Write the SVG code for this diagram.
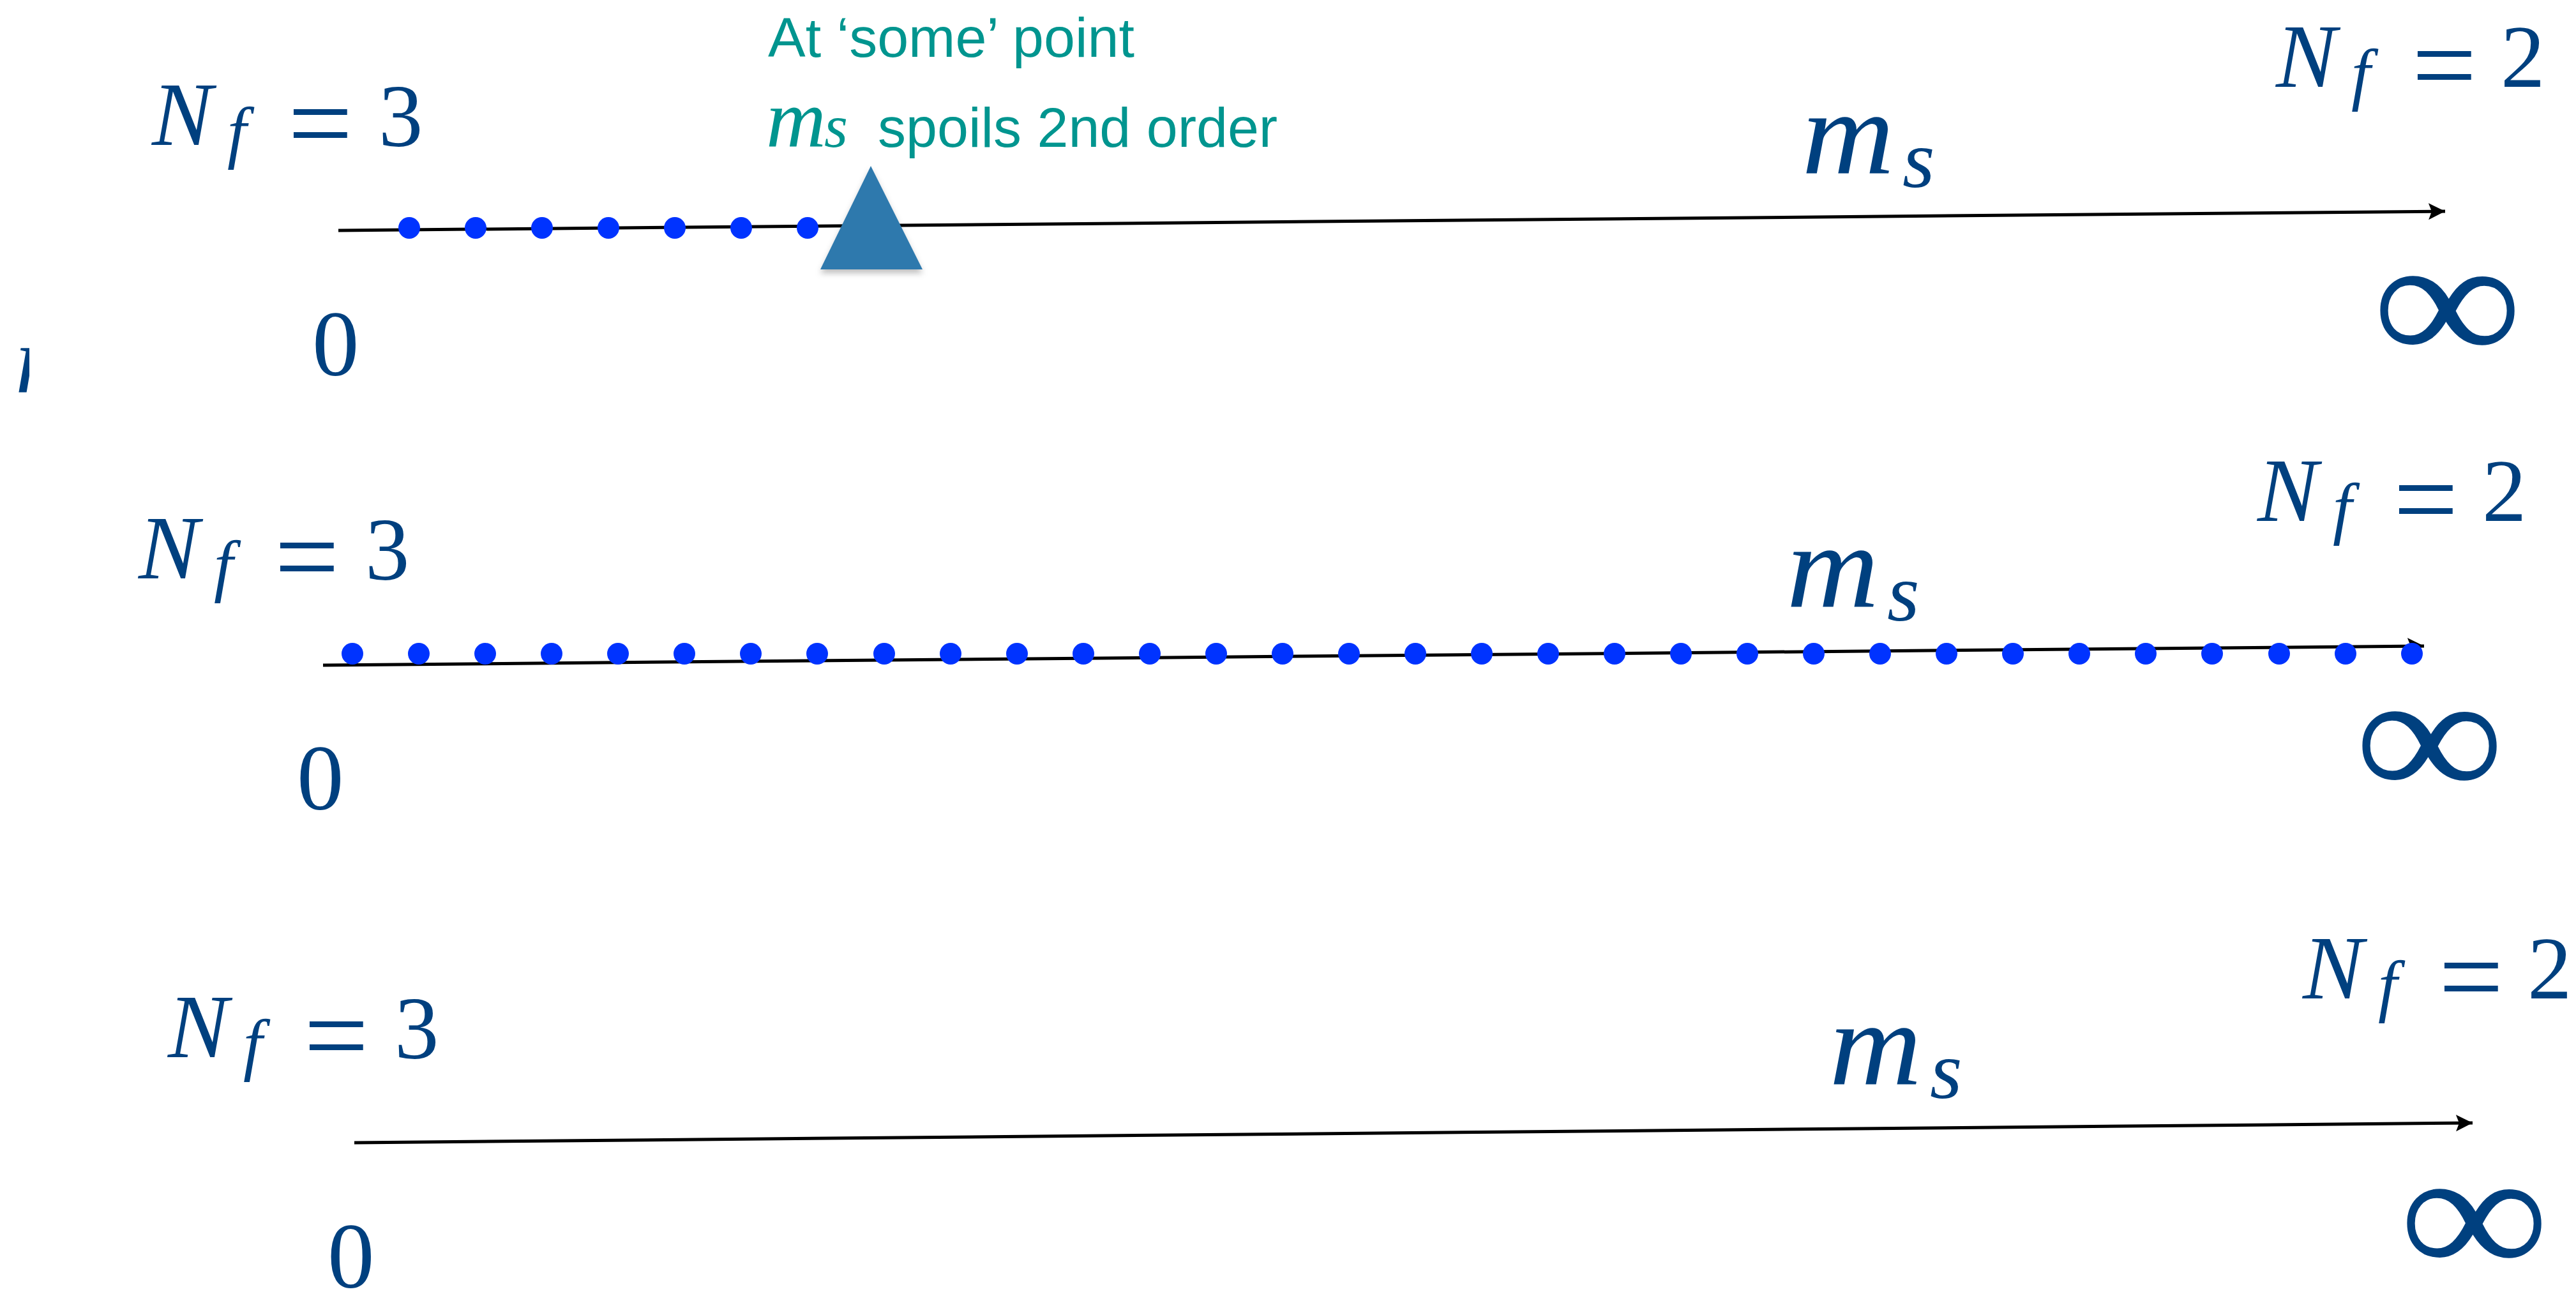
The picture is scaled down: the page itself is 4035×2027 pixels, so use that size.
<svg xmlns="http://www.w3.org/2000/svg" width="4035" height="2027" viewBox="0 0 4035 2027">
<style>
.mi{font-family:"Liberation Serif",serif;font-style:italic;fill:#00407f}
.mr{font-family:"Liberation Serif",serif;fill:#00407f}
.teal{font-family:"Liberation Sans",Arial,sans-serif;fill:#00958f;font-size:88px}
.tealm{font-family:"Liberation Serif",serif;font-style:italic;fill:#00958f}
.axis{stroke:#000;stroke-width:5;fill:none}
.dot{fill:#0033ff}
.zero{font-family:"Liberation Serif",serif;fill:#00407f;font-size:147px}
.inf{font-family:"Liberation Serif",serif;fill:#00407f;font-size:300px}
</style>
<defs>
<marker id="arr" markerUnits="userSpaceOnUse" markerWidth="30" markerHeight="30" refX="26" refY="13" orient="auto">
<path d="M0,0 L26,13 L0,26 L5,13 z" fill="#000"/>
</marker>
<filter id="sh" x="-20%" y="-20%" width="140%" height="150%">
<feDropShadow dx="0" dy="6" stdDeviation="5" flood-color="#000" flood-opacity="0.25"/>
</filter>
<clipPath id="clipL"><rect x="0" y="500" width="46" height="140"/></clipPath>
<g id="nf3">
<text class="mi" x="4" y="0" font-size="142">N</text>
<text class="mi" x="122" y="16" font-size="108">f</text>
<text class="mr" x="217" y="26" font-size="180">=</text>
<text class="mr" x="359" y="2" font-size="139">3</text>
</g>
<g id="nf2">
<text class="mi" x="4" y="0" font-size="142">N</text>
<text class="mi" x="122" y="16" font-size="108">f</text>
<text class="mr" x="217" y="26" font-size="180">=</text>
<text class="mr" x="356" y="0" font-size="139">2</text>
</g>
<g id="ms">
<text class="mi" transform="scale(1.08,1)" x="2" y="0" font-size="186">m</text>
<text class="mi" x="160" y="22" font-size="130">s</text>
</g>
</defs>

<g id="connectors">
<line class="axis" x1="530" y1="361" x2="3830" y2="331" marker-end="url(#arr)"/>
<line class="axis" x1="506" y1="1042" x2="3797" y2="1012" marker-end="url(#arr)"/>
<line class="axis" x1="555" y1="1790" x2="3873" y2="1759" marker-end="url(#arr)"/>
</g>

<g id="fragment" clip-path="url(#clipL)">
<text class="mi" x="24" y="614" font-size="150">m</text>
</g>

<g id="row1">
<g id="row1-left-label"><use href="#nf3" transform="translate(234,227)"/></g>
<g id="row1-right-label"><use href="#nf2" transform="translate(3561,136)"/></g>
<g id="row1-ms"><use href="#ms" transform="translate(2820,271)"/></g>
<g id="row1-zero"><text class="zero" x="489" y="588">0</text></g>
<g id="row1-inf"><text class="inf" transform="translate(3716,569) scale(1.1,0.95)" x="0" y="0">∞</text></g>
<g id="row1-dots">
<circle class="dot" cx="641" cy="357" r="17"/>
<circle class="dot" cx="745" cy="357" r="17"/>
<circle class="dot" cx="849" cy="357" r="17"/>
<circle class="dot" cx="953" cy="357" r="17"/>
<circle class="dot" cx="1057" cy="357" r="17"/>
<circle class="dot" cx="1161" cy="357" r="17"/>
<circle class="dot" cx="1265" cy="357" r="17"/>
</g>
<g id="marker-triangle"><polygon points="1364,260 1445,422 1285,422" fill="#2f79ad" filter="url(#sh)"/></g>
<g id="annotation">
<text class="teal" x="1203" y="89">At ‘some’ point</text>
<text class="tealm" x="1200" y="230" font-size="130">m</text>
<text class="tealm" x="1291" y="230" font-size="95">s</text>
<text class="teal" x="1375" y="230">spoils 2nd order</text>
</g>
</g>

<g id="row2">
<g id="row2-left-label"><use href="#nf3" transform="translate(213,906)"/></g>
<g id="row2-right-label"><use href="#nf2" transform="translate(3532,816)"/></g>
<g id="row2-ms"><use href="#ms" transform="translate(2796,950)"/></g>
<g id="row2-zero"><text class="zero" x="465" y="1268">0</text></g>
<g id="row2-inf"><text class="inf" transform="translate(3688,1251) scale(1.1,0.95)" x="0" y="0">∞</text></g>
<g id="row2-dots">
<circle class="dot" cx="552" cy="1024" r="17"/>
<circle class="dot" cx="656" cy="1024" r="17"/>
<circle class="dot" cx="760" cy="1024" r="17"/>
<circle class="dot" cx="864" cy="1024" r="17"/>
<circle class="dot" cx="968" cy="1024" r="17"/>
<circle class="dot" cx="1072" cy="1024" r="17"/>
<circle class="dot" cx="1176" cy="1024" r="17"/>
<circle class="dot" cx="1280" cy="1024" r="17"/>
<circle class="dot" cx="1385" cy="1024" r="17"/>
<circle class="dot" cx="1489" cy="1024" r="17"/>
<circle class="dot" cx="1593" cy="1024" r="17"/>
<circle class="dot" cx="1697" cy="1024" r="17"/>
<circle class="dot" cx="1801" cy="1024" r="17"/>
<circle class="dot" cx="1905" cy="1024" r="17"/>
<circle class="dot" cx="2009" cy="1024" r="17"/>
<circle class="dot" cx="2113" cy="1024" r="17"/>
<circle class="dot" cx="2217" cy="1024" r="17"/>
<circle class="dot" cx="2321" cy="1024" r="17"/>
<circle class="dot" cx="2425" cy="1024" r="17"/>
<circle class="dot" cx="2529" cy="1024" r="17"/>
<circle class="dot" cx="2633" cy="1024" r="17"/>
<circle class="dot" cx="2737" cy="1024" r="17"/>
<circle class="dot" cx="2841" cy="1024" r="17"/>
<circle class="dot" cx="2945" cy="1024" r="17"/>
<circle class="dot" cx="3049" cy="1024" r="17"/>
<circle class="dot" cx="3153" cy="1024" r="17"/>
<circle class="dot" cx="3257" cy="1024" r="17"/>
<circle class="dot" cx="3361" cy="1024" r="17"/>
<circle class="dot" cx="3465" cy="1024" r="17"/>
<circle class="dot" cx="3570" cy="1024" r="17"/>
<circle class="dot" cx="3674" cy="1024" r="17"/>
<circle class="dot" cx="3778" cy="1024" r="17"/>
</g>
</g>

<g id="row3">
<g id="row3-left-label"><use href="#nf3" transform="translate(259,1656)"/></g>
<g id="row3-right-label"><use href="#nf2" transform="translate(3603,1564)"/></g>
<g id="row3-ms"><use href="#ms" transform="translate(2863,1698)"/></g>
<g id="row3-zero"><text class="zero" x="513" y="2017">0</text></g>
<g id="row3-inf"><text class="inf" transform="translate(3758,1999) scale(1.1,0.95)" x="0" y="0">∞</text></g>
</g>
</svg>
